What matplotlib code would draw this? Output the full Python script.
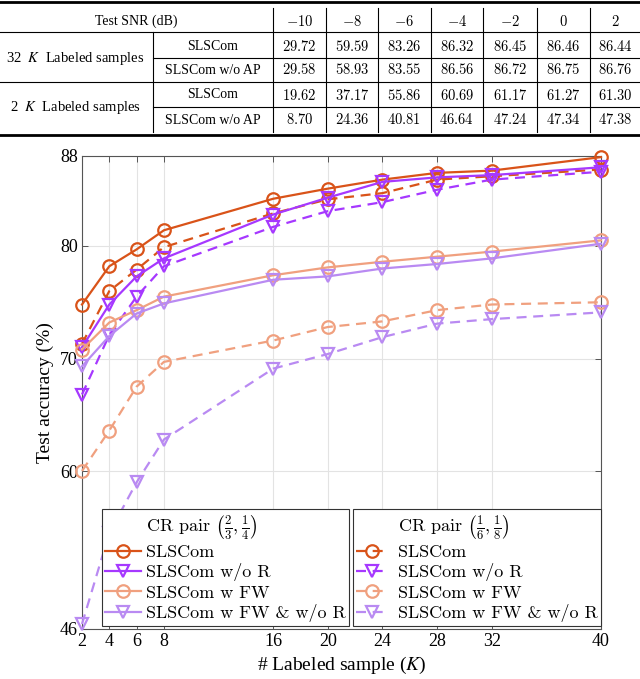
import matplotlib
matplotlib.use("Agg")
import matplotlib.pyplot as plt
from matplotlib.lines import Line2D
from matplotlib.font_manager import FontProperties

plt.rcParams['font.family'] = ['Liberation Serif', 'DejaVu Serif']
plt.rcParams['mathtext.fontset'] = 'stix'

# ---------------- table data ----------------
snr_cols = ["-10", "-8", "-6", "-4", "-2", "0", "2"]
group_labels = ["32  $K$  Labeled samples", "2  $K$  Labeled samples"]
method_labels = ["SLSCom", "SLSCom w/o AP"]
acc_32k_slscom = ["29.72", "59.59", "83.26", "86.32", "86.45", "86.46", "86.44"]
acc_32k_woap = ["29.58", "58.93", "83.55", "86.56", "86.72", "86.75", "86.76"]
acc_2k_slscom = ["19.62", "37.17", "55.86", "60.69", "61.17", "61.27", "61.30"]
acc_2k_woap = ["8.70", "24.36", "40.81", "46.64", "47.24", "47.34", "47.38"]

# ---------------- plot data ----------------
labeled = [2, 4, 6, 8, 16, 20, 24, 28, 32, 40]
# CR pair (2/3, 1/4) -- solid
slscom_a = [74.8, 78.2, 79.7, 81.4, 84.2, 85.1, 85.9, 86.5, 86.7, 87.9]
wor_a = [71.0, 74.8, 77.3, 78.9, 82.8, 84.3, 85.7, 86.1, 86.3, 87.0]
wfw_a = [70.8, 73.2, 74.3, 75.5, 77.4, 78.1, 78.6, 79.05, 79.5, 80.5]
wfwwor_a = [69.3, 72.0, 74.0, 74.9, 77.0, 77.3, 78.0, 78.4, 78.9, 80.2]
# CR pair (1/6, 1/8) -- dashed
slscom_b = [71.3, 76.0, 77.9, 79.9, 82.9, 84.15, 84.7, 85.9, 86.2, 86.8]
wor_b = [66.8, 72.1, 75.5, 78.2, 81.7, 83.1, 83.9, 85.0, 85.9, 86.6]
wfw_b = [60.0, 63.6, 67.5, 69.7, 71.6, 72.8, 73.3, 74.3, 74.8, 75.0]
wfwwor_b = [46.4, 54.5, 59.0, 62.8, 69.1, 70.4, 71.9, 73.1, 73.5, 74.1]

series_names = ["SLSCom", "SLSCom w/o R", "SLSCom w FW", "SLSCom w FW & w/o R"]
legend_titles = [r"CR pair $\left(\frac{2}{3},\frac{1}{4}\right)$",
                 r"CR pair $\left(\frac{1}{6},\frac{1}{8}\right)$"]
colors = ["#D95319", "#A638FF", "#F0A07F", "#B98AF2"]
markers = ["o", "v", "o", "v"]

W, H = 640, 679
fig = plt.figure(figsize=(W / 100, H / 100), dpi=100)

def fx(x):
    return x / W

def fy(y):
    return 1 - y / H

# ---------------- draw table ----------------
tfs = 10
def hline(y, x0, x1, lw=0.8):
    fig.add_artist(Line2D([fx(x0), fx(x1)], [fy(y), fy(y)], color='black', lw=lw,
                          transform=fig.transFigure))

def vline(x, y0, y1, lw=0.8):
    fig.add_artist(Line2D([fx(x), fx(x)], [fy(y0), fy(y1)], color='black', lw=lw,
                          transform=fig.transFigure))

hline(1.8, 0, 640, lw=2.0)
hline(135, 0, 640, lw=2.0)
hline(32.3, 0, 640)
hline(81.7, 0, 640)
hline(58.3, 153.3, 640)
hline(106.7, 153.3, 640)
col_lines = [272.7, 326, 378.3, 430.5, 483.3, 536.7, 590]
for xl in col_lines:
    vline(xl, 8, 132)
vline(153.3, 32.3, 132)

col_centers = [299.3, 352.2, 404.4, 456.9, 510, 563.4, 615.5]
row_y = [21.7, 46.7, 70, 95, 120]

fig.text(fx(136), fy(row_y[0]), "Test SNR (dB)", ha='center', va='center', fontsize=tfs)
for c, s in zip(col_centers, snr_cols):
    fig.text(fx(c), fy(row_y[0]), r'$' + s + r'$', ha='center', va='center',
             fontsize=tfs + 0.5, math_fontfamily='cm')

rows = [acc_32k_slscom, acc_32k_woap, acc_2k_slscom, acc_2k_woap]
for gi, g in enumerate(group_labels):
    yc = (row_y[1 + 2 * gi] + row_y[2 + 2 * gi]) / 2
    fig.text(fx(75), fy(yc), g, ha='center', va='center', fontsize=10.5)
for ri, vals in enumerate(rows):
    fig.text(fx(213), fy(row_y[ri + 1]), method_labels[ri % 2], ha='center', va='center', fontsize=tfs)
    for c, v in zip(col_centers, vals):
        fig.text(fx(c), fy(row_y[ri + 1]), r'$' + v + r'$', ha='center', va='center',
                 fontsize=tfs + 0.5, math_fontfamily='cm')

# ---------------- axes ----------------
ax = fig.add_axes([fx(82), fy(628.5), fx(601) - fx(82), fy(156) - fy(628.5)])
ax.set_xlim(2, 40)
ax.set_ylim(46, 88)
ax.set_xticks(labeled)
ax.set_yticks([46, 60, 70, 80, 88])
ax.grid(True, color='#e3e3e3', lw=0.8)
ax.set_axisbelow(True)
ax.tick_params(direction='in', top=True, right=True, labelsize=13, length=4,
               color='#555555', width=0.7, pad=3)
for sp in ax.spines.values():
    sp.set_color('#555555')
    sp.set_linewidth(0.8)

dash = (0, (4.5, 3))
sets_a = [slscom_a, wor_a, wfw_a, wfwwor_a]
sets_b = [slscom_b, wor_b, wfw_b, wfwwor_b]
handles_a, handles_b = [], []
for i in range(4):
    ha, = ax.plot(labeled, sets_a[i], color=colors[i], lw=1.6, marker=markers[i],
                  markersize=9, markerfacecolor='none', markeredgewidth=1.6, clip_on=False,
                  zorder=3)
    hb, = ax.plot(labeled, sets_b[i], color=colors[i], lw=1.6, ls=dash, marker=markers[i],
                  markersize=9, markerfacecolor='none', markeredgewidth=1.6, clip_on=False,
                  zorder=3)
    handles_a.append(ha)
    handles_b.append(hb)

ax.set_ylabel("Test accuracy (%)", fontsize=14, labelpad=4)
ax.set_xlabel("# Labeled sample ($K$)", fontsize=14, labelpad=4)

dummy = Line2D([], [], color='none')
prop = FontProperties(family='cmr10', size=13, math_fontfamily='cm')

leg1 = ax.legend([dummy] + handles_a, [legend_titles[0]] + series_names, prop=prop,
                 loc='upper left',
                 bbox_to_anchor=(fx(101.7), fy(509)), bbox_transform=fig.transFigure,
                 borderaxespad=0, borderpad=0.2, handlelength=2.0, handletextpad=0.25,
                 labelspacing=0.2, fancybox=False, edgecolor='#333333', framealpha=1)
leg1.get_frame().set_linewidth(0.8)
ax.add_artist(leg1)
leg2 = ax.legend([dummy] + handles_b, [legend_titles[1]] + series_names, prop=prop,
                 loc='upper left',
                 bbox_to_anchor=(fx(352.7), fy(509)), bbox_transform=fig.transFigure,
                 borderaxespad=0, borderpad=0.2, handlelength=1.7, handletextpad=0.6,
                 labelspacing=0.2, fancybox=False, edgecolor='#333333', framealpha=1)
leg2.get_frame().set_linewidth(0.8)

fig.savefig("out.png", dpi=100)
